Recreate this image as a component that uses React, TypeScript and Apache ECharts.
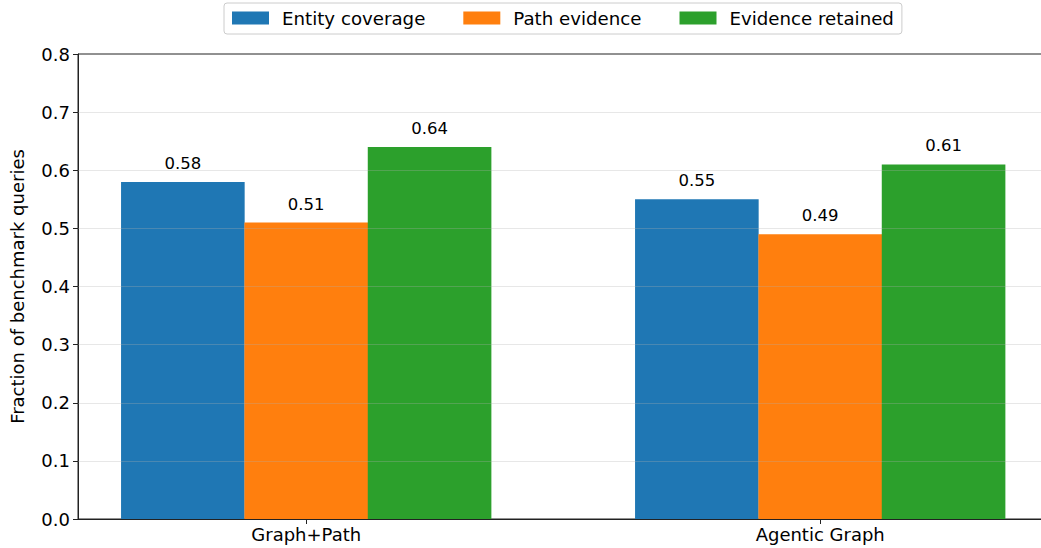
import React, { useEffect, useRef } from "react";
import * as echarts from "echarts";

const categories = ["Graph+Path", "Agentic Graph"];
const seriesNames = ["Entity coverage", "Path evidence", "Evidence retained"];
const entityCoverage = [0.58, 0.55];
const pathEvidence = [0.51, 0.49];
const evidenceRetained = [0.64, 0.61];
const colors = ["#1f77b4", "#ff7f0e", "#2ca02c"];
const yTicks = [0.1, 0.2, 0.3, 0.4, 0.5, 0.6, 0.7];

const W = 1041;
const H = 548;
const CHART_W = 1071;
const GRID_LEFT = 76;
const GRID_RIGHT = 20; // plot right edge at 1051, beyond visible page
const X_MIN = -0.444;
const X_MAX = 1.449;
const BAR_W = 0.24;

export default function App() {
  const ref = useRef<HTMLDivElement>(null);
  useEffect(() => {
    if (!ref.current) return;
    const chart = echarts.init(ref.current, undefined, { renderer: "svg" });
    const plotW = CHART_W - GRID_LEFT - GRID_RIGHT;
    const barPx = (BAR_W / (X_MAX - X_MIN)) * plotW;
    const all = [entityCoverage, pathEvidence, evidenceRetained];
    const font = "DejaVu Sans";
    const series: any[] = all.map((vals, si) => ({
      name: seriesNames[si],
      type: "bar",
      barWidth: barPx,
      barGap: "-100%",
      itemStyle: { color: colors[si] },
      data: vals.map((v, ci) => [ci + (si - 1) * BAR_W, v]),
      label: {
        show: true,
        position: "top",
        distance: 10,
        color: "#000",
        fontFamily: font,
        fontSize: 16.5,
        formatter: (p: any) => p.value[1].toFixed(2),
      },
    }));
    series[2].markLine = {
      silent: true,
      symbol: "none",
      label: { show: false },
      lineStyle: { color: "rgba(176,176,176,0.3)", type: "solid", width: 1 },
      data: yTicks.map((t) => ({ yAxis: t })),
    };
    chart.setOption({
      animation: false,
      backgroundColor: "#fff",
      textStyle: { fontFamily: font },
      legend: {
        data: seriesNames,
        top: 3,
        left: 224,
        itemWidth: 37,
        itemHeight: 13,
        itemGap: 38,
        icon: "rect",
        borderColor: "#cccccc",
        borderWidth: 1,
        borderRadius: 3,
        padding: [6, 8, 7, 8],
        textStyle: { fontSize: 18.2, color: "#000", fontFamily: font, padding: [0, 0, 0, 8] },
      },
      grid: {
        left: GRID_LEFT,
        right: GRID_RIGHT,
        top: 54,
        bottom: 29,
        show: true,
        borderColor: "#222",
        borderWidth: 1,
        containLabel: false,
      },
      xAxis: {
        type: "value",
        min: X_MIN,
        max: X_MAX,
        splitLine: { show: false },
        axisLine: { show: true, onZero: false, lineStyle: { color: "#222" } },
        axisTick: { show: true, customValues: [0, 1], length: 5, lineStyle: { color: "#222" } },
        axisLabel: {
          customValues: [0, 1],
          formatter: (v: number) => categories[Math.round(v)] ?? "",
          color: "#000",
          fontSize: 18,
          fontFamily: font,
          margin: 6,
        },
      },
      yAxis: {
        type: "value",
        min: 0,
        max: 0.8,
        interval: 0.1,
        name: "Fraction of benchmark queries",
        nameLocation: "middle",
        nameGap: 52,
        nameTextStyle: { fontSize: 18, color: "#000", fontFamily: font },
        splitLine: { show: false },
        axisLine: { show: true, onZero: false, lineStyle: { color: "#222" } },
        axisTick: { show: true, length: 5, lineStyle: { color: "#222" } },
        axisLabel: {
          formatter: (v: number) => v.toFixed(1),
          color: "#000",
          fontSize: 18,
          fontFamily: font,
          margin: 8,
        },
      },
      series,
    });
    return () => chart.dispose();
  }, []);
  return (
    <div style={{ position: "fixed", left: 0, top: 0, width: W, height: H, overflow: "hidden" }}>
      <div ref={ref} style={{ width: CHART_W, height: H }} />
    </div>
  );
}
